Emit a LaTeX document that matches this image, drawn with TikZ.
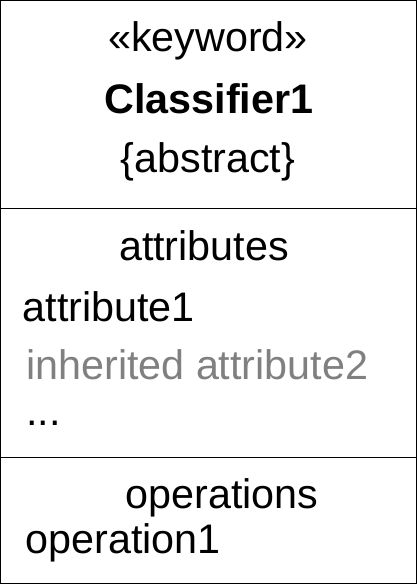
\documentclass[tikz,border=0pt]{standalone}
\usepackage{fontspec}
\setmainfont{Liberation Sans}
\begin{document}
\begin{tikzpicture}[
            x=1pt, y=-1pt,
            box/.style={draw=black, line width=1.2pt},
            title/.style={inner sep=0pt, anchor=base, font=\fontsize{41.3}{49}\selectfont},
            member/.style={inner sep=0pt, anchor=base west, font=\fontsize{41.3}{49}\selectfont},
            inherited/.style={member, text=gray},
        ]
        \useasboundingbox (0, 0) rectangle (418, 585);

        \draw[box] (0.6, 0.6) rectangle (416.6, 583.6);
        \draw[box] (0.6, 208.5) -- (416.6, 208.5);
        \draw[box] (0.6, 457.5) -- (416.6, 457.5);

        % header
        \node[title] (keyword) at (208, 52) {«keyword»};
        \node[title, font=\fontsize{41.3}{49}\selectfont\bfseries] (classifier) at (209, 114) {Classifier1};
        \node[title] (abstract) at (208, 173) {\{abstract\}};

        % attributes
        \node[title] (attributes) at (204, 260) {attributes};
        \node[member] (attr1) at (22.5, 321) {attribute1};
        \node[inherited] (attr2) at (26, 379) {inherited attribute2};
        \node[member] (more) at (26, 425) {...};

        % operations
        \node[title] (operations) at (222, 508) {operations};
        \node[member] (op1) at (25.5, 553) {operation1};
    \end{tikzpicture}
\end{document}
